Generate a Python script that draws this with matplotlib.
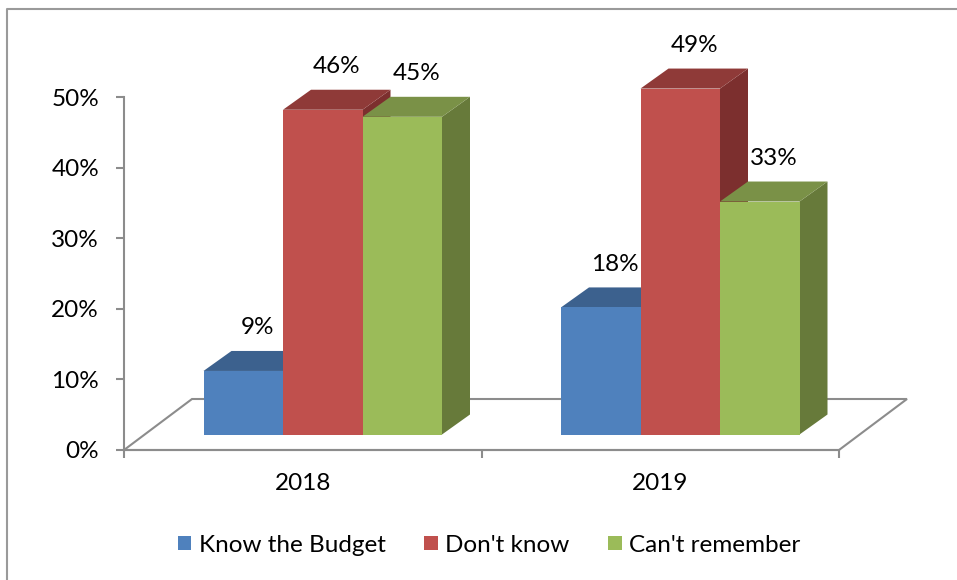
import matplotlib.pyplot as plt
from matplotlib.patches import Polygon, Patch
from matplotlib.lines import Line2D

years = ['2018', '2019']
series = ['Know the Budget', "Don't know", "Can't remember"]
know_budget = [9, 18]
dont_know = [46, 49]
cant_remember = [45, 33]

# front / top / side shades for each series
front_colors = ['#4F81BD', '#C0504D', '#9BBB59']
top_colors = ['#3C618E', '#8F3A38', '#7A9147']
side_colors = ['#2F4D72', '#7C2F2E', '#677A3A']

GRAY = '#8C8C8C'
FS = 17.5
plt.rcParams['font.family'] = ['Lato', 'DejaVu Sans']

W, H = 957, 580
fig = plt.figure(figsize=(W / 100, H / 100), dpi=100)
ax = fig.add_axes([0, 0, 1, 1])

# pixel scale of the plot: 357.5 px per category, 7.06 px per percent
px_x, px_y = 357.5, 7.06
x_org, y_org = 124, 450
ax.set_xlim(-x_org / px_x, (W - x_org) / px_x)
ax.set_ylim(-(H - y_org) / px_y, y_org / px_y)

# depth of the floor and of each bar, in data units
floor_dx, floor_dy = 68 / px_x, 51 / px_y
bar_dx, bar_dy = 28 / px_x, 20 / px_y
off_dx, off_dy = (floor_dx - bar_dx) / 2, (floor_dy - bar_dy) / 2
bar_w = 79.5 / px_x

# floor
floor = Polygon([(0, 0), (2, 0), (2 + floor_dx, floor_dy), (floor_dx, floor_dy)],
                closed=True, facecolor='white', edgecolor=GRAY, lw=1.5, zorder=1)
ax.add_patch(floor)

values = [know_budget, dont_know, cant_remember]
z = 2
for gi, year in enumerate(years):
    for si in range(len(series)):
        v = values[si][gi]
        x0 = gi + 0.5 + off_dx + (si - 1.5) * bar_w
        b = off_dy
        side = Polygon([(x0 + bar_w, b), (x0 + bar_w + bar_dx, b + bar_dy),
                        (x0 + bar_w + bar_dx, b + v + bar_dy), (x0 + bar_w, b + v)],
                       closed=True, facecolor=side_colors[si], edgecolor='none', zorder=z)
        top = Polygon([(x0, b + v), (x0 + bar_w, b + v),
                       (x0 + bar_w + bar_dx, b + v + bar_dy), (x0 + bar_dx, b + v + bar_dy)],
                      closed=True, facecolor=top_colors[si], edgecolor='none', zorder=z + 1)
        ax.add_patch(side)
        ax.add_patch(top)
        ax.bar(x0, v, width=bar_w, bottom=b, align='edge', color=front_colors[si],
               linewidth=0, zorder=z + 2)
        ax.text(x0 + bar_w / 2 + bar_dx / 2, b + v + 43 / px_y, f'{v}%',
                ha='center', va='center', fontsize=FS, zorder=20)
        z += 3

# axes: left spine is the value axis, bottom spine the front floor edge
for s in ['top', 'right']:
    ax.spines[s].set_visible(False)
ax.spines['left'].set_position(('data', 0))
ax.spines['left'].set_bounds(0, 50)
ax.spines['bottom'].set_position(('data', 0))
ax.spines['bottom'].set_bounds(0, 2)
for s in ['left', 'bottom']:
    ax.spines[s].set_color(GRAY)
    ax.spines[s].set_linewidth(1.5)
    ax.spines[s].set_zorder(1.5)

ax.set_yticks(range(0, 51, 10))
ax.set_yticklabels([f'{t}%' for t in range(0, 51, 10)])
ax.tick_params(axis='y', direction='out', length=6, width=1.5, color=GRAY,
               labelsize=FS, pad=12)
ax.set_xticks([0, 1, 2])
ax.set_xticklabels([])
ax.tick_params(axis='x', direction='out', length=6, width=1.5, color=GRAY)
for gi, year in enumerate(years):
    ax.text(gi + 0.5, -33 / px_y, year, ha='center', va='center', fontsize=FS)

# chart border (left and top edges)
fig.add_artist(Line2D([7 / W, 7 / W, 1], [0, 1 - 9 / H, 1 - 9 / H],
                      color='#9A9A9A', lw=1.5))

handles = [Patch(facecolor=c, edgecolor='none') for c in front_colors]
fig.legend(handles, series, loc='center', bbox_to_anchor=(489 / W, 1 - 545 / H),
           ncol=3, frameon=False, fontsize=FS, handlelength=0.55, handleheight=0.55,
           handletextpad=0.3, columnspacing=1.6)

fig.savefig('out.png', dpi=100)
